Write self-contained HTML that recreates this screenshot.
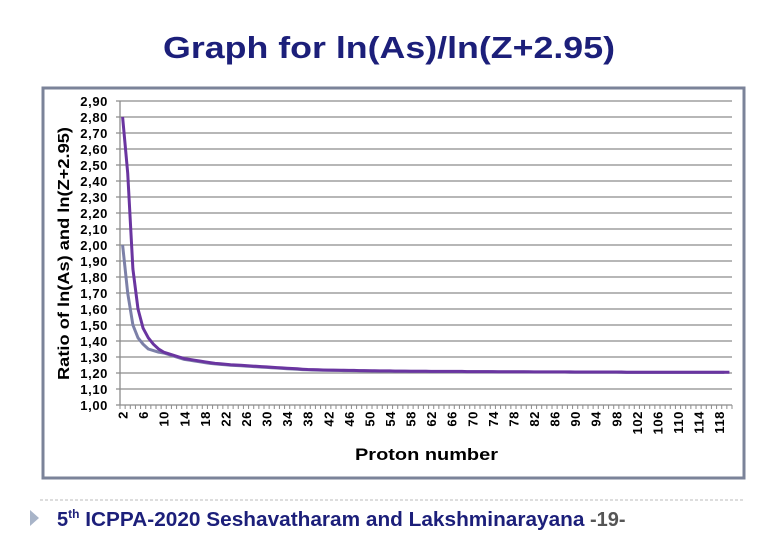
<!DOCTYPE html>
<html><head><meta charset="utf-8">
<style>
body{margin:0;background:#fff;width:780px;height:540px;overflow:hidden;font-family:"Liberation Sans",Arial,sans-serif;}
</style></head>
<body>
<svg width="780" height="540" xmlns="http://www.w3.org/2000/svg">
<text x="163" y="58" textLength="452" lengthAdjust="spacingAndGlyphs" font-size="31" font-weight="bold" fill="#1c1f7a" font-family="Liberation Sans, sans-serif">Graph for ln(As)/ln(Z+2.95)</text>
<rect x="43" y="88" width="701" height="390" fill="#fff" stroke="#7b8399" stroke-width="3"/>
<g id="grid"></g>
<g id="yticks"></g>
<g id="xticks"></g>
<g id="series"></g>
<text transform="translate(69,380) rotate(-90)" textLength="253" lengthAdjust="spacingAndGlyphs" font-size="16" font-weight="bold" fill="#000">Ratio of ln(As) and ln(Z+2.95)</text>
<text x="355" y="460" textLength="143" lengthAdjust="spacingAndGlyphs" font-size="17" font-weight="bold" fill="#000">Proton number</text>
<line x1="40" y1="500" x2="745" y2="500" stroke="#bbb" stroke-dasharray="3,2"/>
<polygon points="30,510 30,526 39,518" fill="#a8b4c8"/>
<text x="57" y="526" font-size="20" font-weight="bold" fill="#1c1f7a">5<tspan font-size="12" dy="-8">th</tspan><tspan dy="8" textLength="505" lengthAdjust="spacingAndGlyphs"> ICPPA-2020 Seshavatharam and Lakshminarayana</tspan><tspan fill="#555"> -19-</tspan></text>
</svg>
<script>
const categories = [];
for (let z = 2; z <= 120; z++) categories.push(z);
const yTickLabels = ["1,00","1,10","1,20","1,30","1,40","1,50","1,60","1,70","1,80","1,90","2,00","2,10","2,20","2,30","2,40","2,50","2,60","2,70","2,80","2,90"];
const seriesPurple = [2.80,2.45,1.85,1.60,1.48,1.42,1.38,1.35,1.33,1.32,1.31,1.30,1.29,1.285,1.28,1.275,1.27,1.265,1.26,1.258,1.255,1.252,1.25,1.248,1.246,1.244,1.242,1.24,1.238,1.236,1.234,1.232,1.23,1.228,1.226,1.224,1.222,1.221,1.22,1.219,1.218,1.218,1.217,1.217,1.216,1.216,1.215,1.215,1.214,1.214,1.213,1.213,1.213,1.212,1.212,1.212,1.211,1.211,1.211,1.211,1.21,1.21,1.21,1.21,1.21,1.21,1.21,1.209,1.209,1.209,1.209,1.209,1.209,1.208,1.208,1.208,1.208,1.208,1.208,1.208,1.207,1.207,1.207,1.207,1.207,1.207,1.207,1.207,1.206,1.206,1.206,1.206,1.206,1.206,1.206,1.206,1.206,1.206,1.205,1.205,1.205,1.205,1.205,1.205,1.205,1.205,1.205,1.205,1.205,1.205,1.205,1.205,1.205,1.205,1.205,1.205,1.205,1.205,1.205];
const seriesGray = [2.00,1.70,1.50,1.42,1.38,1.35,1.34,1.33,1.325,1.315,1.305,1.295,1.285,1.28,1.275,1.27,1.265,1.26,1.257,1.254,1.251,1.249,1.247,1.245,1.243,1.241,1.239,1.237,1.235,1.233,1.231,1.229,1.227,1.225,1.223,1.221,1.22,1.219,1.218,1.217,1.217,1.216,1.216,1.215,1.215,1.214,1.214,1.213,1.213,1.212,1.212,1.212,1.211,1.211,1.211,1.21,1.21,1.21,1.21,1.21,1.209,1.209,1.209,1.209,1.209,1.209,1.208,1.208,1.208,1.208,1.208,1.208,1.207,1.207,1.207,1.207,1.207,1.207,1.207,1.206,1.206,1.206,1.206,1.206,1.206,1.206,1.206,1.205,1.205,1.205,1.205,1.205,1.205,1.205,1.205,1.205,1.205,1.204,1.204,1.204,1.204,1.204,1.204,1.204,1.204,1.204,1.204,1.204,1.204,1.204,1.204,1.204,1.204,1.204,1.204,1.204,1.204,1.204];

const NS = "http://www.w3.org/2000/svg";
const X0 = 120, X1 = 732, Y0 = 405, Y1 = 101, YMIN = 1.0, YMAX = 2.9;
const bw = (X1 - X0) / categories.length;
function xPos(i){ return X0 + (i + 0.5) * bw; }
function yPos(v){ return Y0 - (v - YMIN) / (YMAX - YMIN) * (Y0 - Y1); }
function mk(tag, attrs, parent){ const e = document.createElementNS(NS, tag); for (const k in attrs) e.setAttribute(k, attrs[k]); parent.appendChild(e); return e; }

const grid = document.getElementById('grid');
const yt = document.getElementById('yticks');
yTickLabels.forEach((lab, i) => {
  const v = parseFloat(lab.replace(',', '.'));
  const y = yPos(v);
  const l = mk('line', {x1: X0 - 4, x2: X1, y1: y, y2: y, stroke: '#8c8c8c', 'stroke-width': 1.3}, grid);
  
  
  const t = mk('text', {x: 108, y: y + 5, 'text-anchor': 'end', 'font-size': 13, 'font-weight': 'bold', fill: '#000', 'letter-spacing': 0.6}, yt);
  t.textContent = lab;
  
  
});
const ax = mk('line', {x1: X0, x2: X0, y1: Y1, y2: Y0, stroke: '#8c8c8c', 'stroke-width': 1.3}, grid);



const xt = document.getElementById('xticks');
for (let i = 0; i <= categories.length; i++) {
  const x = X0 + i * bw;
  const tk = mk('line', {x1: x, x2: x, y1: Y0, y2: Y0 + 4, stroke: '#8c8c8c', 'stroke-width': 1}, xt);
  
  
}
categories.forEach((c, i) => {
  if ((c - 2) % 4 !== 0) return;
  const x = xPos(i);
  const t = mk('text', {transform: 'translate(' + (x + 5) + ',411) rotate(-90)', 'text-anchor': 'end', 'font-size': 13, 'font-weight': 'bold', fill: '#000', 'letter-spacing': 0.6}, xt);
  t.textContent = c;
  
  
});

const sg = document.getElementById('series');
function path(arr){ return arr.map((v, i) => (i ? 'L' : 'M') + xPos(i).toFixed(1) + ',' + yPos(v).toFixed(1)).join(' '); }
const pg = mk('path', {d: path(seriesGray), fill: 'none', stroke: '#7c80a8', 'stroke-width': 3, 'stroke-linejoin': 'round'}, sg);


const pp = mk('path', {d: path(seriesPurple), fill: 'none', stroke: '#6a35a0', 'stroke-width': 3, 'stroke-linejoin': 'round'}, sg);


</script>
</body></html>
